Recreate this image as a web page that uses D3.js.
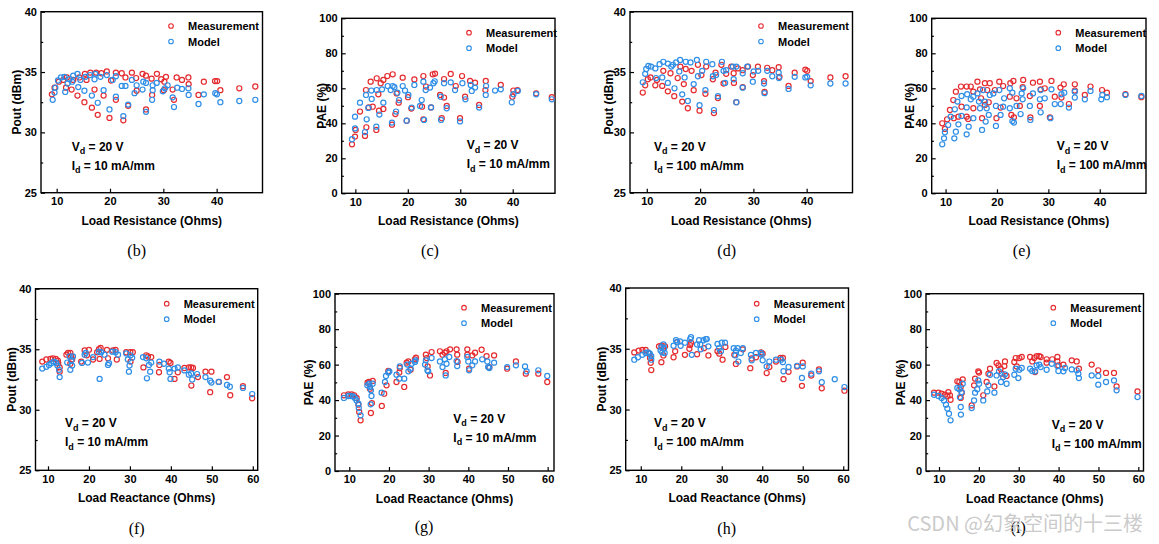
<!DOCTYPE html>
<html>
<head>
<meta charset="utf-8">
<script src="https://cdn.jsdelivr.net/npm/d3@7"></script>
<style>
  html, body { margin:0; padding:0; background:#fff; }
  svg { display:block; }
  .tick text { font-family:"Liberation Sans", Arial, sans-serif; font-weight:bold; font-size:11px; fill:#000; }
  .lbl { font-family:"Liberation Sans", Arial, sans-serif; font-weight:bold; fill:#000; }
  .cap { font-family:"Liberation Serif", "Times New Roman", serif; font-size:16px; fill:#000; }
</style>
</head>
<body>
<svg id="chart" width="1159" height="544"></svg>
<script>
// ---------------- DATA ----------------
const seriesNames = ["Measurement", "Model"];
const poutTicks = [25, 30, 35, 40];
const poutMinor = [27.5, 32.5, 37.5];
const paeTicks = [0, 20, 40, 60, 80, 100];
const paeMinor = [10, 30, 50, 70, 90];
const resTicks = [10, 20, 30, 40];
const reaTicks = [10, 20, 30, 40, 50, 60];
const captions = ["(b)", "(c)", "(d)", "(e)", "(f)", "(g)", "(h)", "(i)"];
const biasV = "20 V";
const biasI10 = "10 mA/mm";
const biasI100 = "100 mA/mm";

// (b) Pout vs load resistance, Id = 10 mA/mm
const bMeas = [[9.1,33.15],[9.6,33.7],[10.4,34.2],[11.25,34.35],[11.9,34.55],[11.75,33.7],[12.8,33.55],[13.9,33.05],[15.2,32.5],[16.6,32.05],[17.7,31.45],[19.9,31.2],[22.5,31.0],[23.4,32.2],[26.75,31.9],[25.0,33.45],[21.1,32.7],[18.8,33.05],[17.1,33.55],[15.6,34.35],[14.25,34.55],[13.1,34.35],[15.3,34.85],[16.3,34.95],[17.4,34.95],[18.4,34.9],[19.4,35.05],[20.2,34.3],[21.1,34.95],[22.2,34.9],[22.9,34.55],[24.1,34.95],[24.9,34.5],[26.1,34.85],[26.75,34.7],[27.8,34.45],[28.8,34.85],[29.6,34.4],[30.5,34.6],[30.2,34.2],[27.9,33.1],[30.1,33.5],[31.75,33.55],[32.0,32.7],[32.5,34.55],[33.5,34.35],[34.7,34.55],[34.75,34.0],[36.6,33.1],[37.6,34.2],[39.7,34.25],[40.1,34.25],[40.7,33.5],[44.25,33.65],[47.25,33.8]];
const bModel = [[9.25,32.7],[9.6,33.3],[9.75,33.7],[10.25,34.3],[10.8,34.55],[11.45,34.6],[11.6,33.35],[12.05,34.05],[12.4,34.4],[12.9,34.2],[13.1,34.7],[13.9,34.85],[14.05,33.75],[14.45,34.35],[15.2,33.45],[15.4,34.6],[16.25,34.75],[16.6,33.05],[17.1,34.4],[17.25,34.85],[17.7,32.45],[18.2,34.6],[18.8,33.5],[19.4,34.75],[19.9,31.9],[20.5,34.35],[21.1,32.95],[21.1,34.65],[22.2,33.85],[22.5,31.35],[22.9,33.85],[23.4,32.3],[24.1,34.35],[24.6,33.25],[25.0,33.9],[26.1,33.55],[26.25,34.2],[26.75,31.7],[26.75,34.1],[27.9,32.7],[28.0,33.5],[28.0,33.9],[28.75,34.1],[29.9,33.4],[30.3,33.65],[30.8,33.9],[31.75,32.9],[32.0,32.1],[32.6,33.7],[33.5,33.6],[34.7,33.65],[34.75,33.1],[36.6,32.35],[37.6,33.15],[39.75,33.25],[40.05,33.15],[40.7,32.5],[44.25,32.6],[47.25,32.7]];

// (c) PAE vs load resistance, Id = 10 mA/mm
const cMeas = [[9.36,28.0],[9.94,32.4],[10.06,36.2],[10.89,46.7],[11.84,32.8],[12.1,37.7],[12.03,59.0],[12.54,49.1],[12.92,63.8],[13.31,49.5],[14.07,65.7],[14.0,36.2],[14.39,56.6],[14.51,47.2],[14.83,62.9],[15.34,64.8],[15.34,48.2],[16.1,67.0],[16.99,39.2],[17.12,68.0],[17.63,45.3],[17.88,57.1],[18.26,51.8],[19.03,66.1],[19.79,41.5],[20.04,54.9],[20.68,48.4],[21.25,65.1],[22.71,49.5],[22.97,67.0],[22.97,42.3],[23.48,61.0],[24.43,49.1],[24.75,68.0],[25.19,68.4],[26.15,56.2],[26.47,42.9],[26.91,65.3],[26.91,54.7],[27.42,49.9],[28.18,68.2],[29.14,61.3],[29.96,42.9],[30.34,67.0],[30.92,55.2],[31.87,64.2],[32.82,63.2],[33.59,50.5],[34.79,59.0],[34.86,64.2],[37.72,61.9],[39.94,55.2],[40.13,58.7],[40.9,59.0],[44.46,57.1],[47.45,54.9]];
const cModel = [[9.36,30.9],[9.94,37.1],[9.94,43.8],[10.89,51.8],[11.84,35.0],[12.16,42.3],[12.03,56.2],[12.48,48.8],[13.05,58.7],[13.12,53.9],[14.07,59.0],[14.0,38.1],[14.58,45.0],[15.09,59.4],[15.34,51.8],[16.17,61.3],[16.74,59.0],[16.99,40.4],[17.12,61.3],[17.44,60.6],[17.76,46.7],[18.01,57.5],[18.33,53.3],[19.03,61.3],[19.47,58.7],[19.79,41.5],[20.11,56.2],[20.74,49.0],[21.25,61.9],[22.33,49.9],[22.65,53.3],[22.97,63.8],[23.1,41.9],[23.41,59.0],[24.24,60.4],[24.43,49.1],[24.88,62.9],[25.13,64.0],[26.27,55.2],[26.34,41.9],[26.91,62.9],[27.42,48.6],[28.18,63.4],[29.01,59.0],[29.96,41.1],[30.41,62.9],[30.98,53.7],[32.0,61.9],[32.19,58.5],[32.82,60.4],[33.59,49.0],[34.92,61.3],[34.86,56.2],[36.64,58.7],[37.72,59.4],[39.82,52.0],[40.13,56.6],[40.96,58.5],[44.46,56.6],[47.45,53.7]];

// (d) Pout vs load resistance, Id = 100 mA/mm
const dMeas = [[9.25,33.3],[9.7,33.9],[10.2,34.4],[10.7,34.55],[11.6,33.9],[11.9,34.35],[12.9,33.85],[13.1,35.1],[13.95,33.4],[14.45,34.9],[15.15,33.0],[15.8,34.5],[16.3,35.45],[16.65,32.55],[16.95,34.0],[17.3,35.25],[17.7,32.0],[18.4,35.1],[18.8,33.5],[19.6,35.6],[19.9,31.8],[20.25,34.75],[21.0,33.2],[21.15,35.45],[22.4,34.4],[22.6,31.6],[22.9,34.95],[23.35,32.85],[24.0,35.6],[24.4,34.05],[24.9,34.85],[25.85,35.45],[26.3,34.9],[26.35,34.1],[26.8,32.5],[27.1,35.3],[28.0,33.75],[28.0,35.15],[29.0,35.45],[29.9,34.75],[30.85,35.45],[32.0,34.25],[32.1,33.35],[32.6,35.35],[33.55,35.15],[34.75,35.4],[34.9,34.6],[36.6,33.85],[37.75,34.95],[39.75,35.2],[40.1,35.1],[40.75,34.25],[44.45,34.55],[47.3,34.65]];
const dModel = [[9.25,34.15],[9.7,34.85],[9.9,35.25],[10.3,35.5],[10.8,35.45],[11.6,35.3],[11.75,34.5],[12.4,35.65],[12.9,34.55],[13.1,35.85],[13.95,34.1],[13.95,35.7],[14.6,35.45],[14.9,35.6],[15.2,33.65],[15.5,35.8],[16.1,35.05],[16.25,36.0],[16.65,33.15],[17.1,34.55],[17.3,35.85],[17.7,32.6],[18.2,35.8],[18.8,34.0],[19.4,36.0],[19.6,34.65],[19.9,32.25],[20.4,35.1],[21.0,33.5],[21.15,35.85],[22.3,35.65],[22.4,34.65],[22.6,31.85],[23.0,34.75],[23.35,33.0],[24.1,35.85],[24.4,35.1],[24.7,34.1],[24.9,35.15],[26.3,34.4],[26.15,35.45],[26.8,32.5],[26.8,35.45],[28.0,33.7],[28.0,34.9],[28.85,35.45],[29.9,34.2],[30.05,35.05],[30.9,35.1],[32.1,33.25],[32.0,34.05],[32.6,35.1],[33.55,34.65],[34.75,34.95],[34.8,34.5],[36.6,33.6],[37.75,34.6],[39.75,34.55],[40.1,34.6],[40.75,33.9],[44.45,34.05],[47.3,34.05]];

// (e) PAE vs load resistance, Id = 100 mA/mm
const eMeas = [[9.35,40.0],[9.87,36.8],[10.3,42.3],[10.85,47.6],[11.5,53.3],[11.6,42.9],[12.0,58.1],[12.5,43.8],[13.0,61.0],[13.1,49.5],[14.1,61.0],[14.1,43.8],[14.4,42.5],[14.9,61.0],[15.4,58.1],[15.4,48.6],[16.2,63.8],[16.7,59.4],[16.9,54.3],[17.1,42.9],[17.65,62.9],[17.65,50.5],[18.1,59.0],[18.4,52.0],[18.6,62.9],[19.6,59.0],[19.9,42.9],[20.45,63.8],[20.7,49.0],[21.2,61.3],[22.5,55.2],[22.6,62.9],[22.8,44.8],[23.2,64.2],[23.3,43.4],[23.8,54.3],[24.45,49.9],[25.1,64.8],[25.0,60.6],[26.4,55.6],[26.5,43.4],[27.0,63.2],[28.35,63.8],[28.35,49.9],[28.5,59.4],[29.3,60.0],[30.3,43.4],[30.6,64.2],[31.25,55.2],[32.35,60.4],[32.55,54.7],[33.0,62.3],[34.0,51.0],[35.15,62.3],[35.15,58.7],[37.1,56.2],[38.2,61.0],[40.45,59.0],[41.4,57.5],[45.0,56.6],[48.1,54.9]];
const eModel = [[9.35,28.0],[9.7,31.4],[9.87,34.9],[10.5,39.0],[11.0,43.8],[11.7,31.4],[11.8,48.0],[12.0,35.2],[12.3,52.4],[12.5,39.4],[13.1,55.6],[13.1,44.2],[14.1,33.7],[14.1,49.1],[14.2,56.6],[14.5,38.1],[14.9,53.7],[15.4,55.2],[15.4,42.9],[16.2,57.1],[16.5,52.4],[16.7,48.6],[17.1,36.2],[17.3,59.0],[17.65,52.4],[17.8,41.0],[18.0,48.6],[18.4,44.8],[18.6,56.2],[19.3,57.1],[19.8,49.9],[19.8,38.5],[20.45,59.0],[20.7,44.8],[21.2,49.5],[21.4,54.3],[22.5,60.0],[22.5,48.6],[23.0,57.5],[23.0,41.3],[23.3,40.4],[23.8,49.9],[24.6,45.3],[24.8,57.1],[25.1,60.0],[25.0,53.7],[26.4,49.9],[26.5,41.9],[27.0,57.1],[28.35,53.7],[28.5,59.0],[28.5,46.3],[29.3,54.3],[30.4,42.9],[30.6,59.4],[31.25,51.0],[32.4,51.0],[32.55,56.6],[33.1,57.5],[34.0,49.0],[35.15,58.1],[35.15,54.7],[37.1,53.7],[38.2,58.5],[40.3,53.7],[40.5,56.2],[41.4,54.9],[45.0,56.2],[48.1,55.6]];

// (f) Pout vs load reactance, Id = 10 mA/mm
const fMeas = [[8.6,33.98],[9.6,34.15],[10.6,34.2],[11.2,34.25],[11.9,34.2],[12.4,34.05],[12.5,33.85],[12.85,33.5],[12.85,33.15],[14.5,34.55],[14.9,34.7],[15.45,34.7],[15.7,34.4],[15.45,33.8],[15.9,34.15],[18.1,33.98],[18.95,34.9],[20.0,34.95],[19.5,34.5],[21.0,34.15],[22.0,34.75],[22.45,35.0],[22.85,35.1],[22.6,34.2],[24.4,34.95],[24.65,34.25],[25.85,34.9],[26.5,34.95],[26.8,34.15],[29.1,34.75],[30.1,34.75],[30.7,34.75],[30.15,33.98],[33.3,33.5],[33.98,34.5],[34.4,34.4],[35.2,34.35],[37.2,33.7],[37.1,33.1],[39.5,33.98],[39.9,33.87],[40.9,32.55],[41.7,33.1],[43.3,33.45],[44.4,33.5],[44.95,33.5],[45.4,33.45],[45.0,32.0],[46.6,32.7],[48.45,33.15],[49.6,31.45],[49.9,33.15],[51.7,32.3],[53.7,32.7],[54.5,31.2],[57.6,31.95],[59.85,30.95]];
const fModel = [[8.6,33.4],[9.6,33.55],[10.25,33.7],[10.8,33.85],[11.45,33.98],[12.0,33.87],[12.3,33.65],[12.7,33.3],[12.85,32.7],[14.7,33.9],[15.3,34.4],[15.45,33.3],[15.7,34.1],[15.9,33.65],[16.1,34.4],[18.3,33.87],[18.95,34.55],[19.2,34.7],[19.75,33.9],[21.0,34.35],[22.45,34.8],[22.6,32.55],[23.0,34.75],[23.8,34.55],[24.65,33.7],[24.9,33.85],[25.7,34.8],[26.5,34.75],[27.1,34.55],[29.1,34.65],[29.5,34.15],[29.75,33.15],[29.9,33.65],[30.15,34.5],[30.55,34.3],[33.2,34.35],[34.0,34.25],[34.15,32.6],[34.65,33.7],[34.95,33.15],[35.2,33.9],[37.2,33.98],[38.3,33.8],[39.5,33.4],[39.7,33.1],[39.9,32.55],[40.9,33.4],[41.7,33.5],[43.3,33.25],[44.4,32.9],[44.95,33.0],[45.2,32.5],[46.4,32.95],[48.45,32.7],[49.6,32.4],[49.9,32.25],[51.7,32.3],[53.7,32.05],[54.4,31.9],[57.6,31.8],[59.85,31.3]];

// (g) PAE vs load reactance, Id = 10 mA/mm
const gMeas = [[8.65,42.7],[9.75,43.2],[10.6,43.2],[11.25,42.7],[11.85,41.2],[12.3,37.4],[12.5,33.3],[12.85,28.6],[14.6,49.8],[14.95,50.2],[15.2,46.4],[15.45,32.7],[15.7,38.3],[15.9,50.8],[18.2,36.7],[18.8,43.6],[19.4,48.3],[19.85,56.4],[21.9,50.2],[22.6,55.5],[22.75,58.1],[23.85,47.4],[24.45,61.1],[24.9,61.8],[25.45,57.1],[26.55,63.0],[26.8,63.9],[29.3,65.6],[29.5,63.7],[29.75,59.0],[30.35,53.9],[30.75,67.1],[32.85,67.5],[33.5,65.6],[34.1,66.7],[34.3,55.3],[34.5,67.5],[35.4,68.6],[37.05,68.6],[37.2,65.6],[37.3,61.5],[39.75,68.6],[39.75,65.6],[40.2,57.7],[41.0,65.2],[41.7,66.7],[43.35,68.4],[44.6,64.8],[45.3,58.6],[46.5,65.2],[49.8,57.7],[52.0,61.8],[54.5,54.9],[57.65,54.9],[59.9,50.2]];
const gModel = [[8.65,41.2],[9.75,42.3],[10.3,42.3],[10.95,42.1],[11.4,41.2],[11.85,39.8],[12.3,38.0],[12.4,35.5],[12.85,31.4],[14.55,48.3],[15.05,49.2],[15.2,47.4],[15.4,37.6],[15.45,45.5],[15.6,42.3],[15.9,49.2],[18.15,44.2],[19.0,50.2],[19.25,53.6],[19.85,55.5],[20.1,56.2],[21.9,54.3],[22.6,52.1],[22.75,59.0],[23.85,52.1],[24.6,60.0],[24.9,56.2],[25.45,57.7],[25.7,60.5],[26.55,61.5],[26.7,62.4],[29.1,60.0],[29.3,62.4],[29.7,56.8],[29.9,56.2],[30.75,63.7],[32.85,61.8],[33.5,58.6],[34.1,63.0],[34.3,53.9],[34.5,60.5],[35.2,64.3],[37.05,62.0],[37.2,59.2],[39.75,64.3],[40.0,61.8],[40.2,56.8],[41.0,59.6],[41.7,61.8],[43.5,63.0],[44.8,61.8],[45.0,58.6],[45.3,58.1],[46.5,61.1],[49.8,58.6],[52.0,59.6],[54.3,59.0],[54.7,56.2],[57.65,56.8],[59.9,53.6]];

// (h) Pout vs load reactance, Id = 100 mA/mm
const hMeas = [[8.4,34.7],[9.5,34.85],[10.4,34.9],[11.2,34.9],[12.0,34.6],[12.3,34.25],[12.45,33.85],[12.6,33.25],[14.5,35.2],[15.1,35.25],[15.6,35.05],[15.1,33.9],[15.6,34.45],[16.0,35.2],[18.1,34.3],[18.5,34.8],[19.0,35.55],[20.9,34.5],[22.0,35.0],[22.2,35.3],[22.4,35.5],[23.9,34.55],[25.6,35.05],[26.7,34.45],[28.95,34.8],[29.4,34.6],[30.2,34.1],[30.9,35.15],[33.1,34.5],[33.5,33.75],[35.2,34.95],[37.05,33.4],[37.4,34.2],[38.45,34.3],[39.7,34.7],[40.1,34.6],[41.1,33.0],[41.75,33.5],[43.4,33.95],[44.5,34.25],[45.1,34.25],[45.25,32.5],[46.5,33.1],[48.6,33.55],[49.8,31.95],[50.0,33.85],[52.1,32.8],[54.0,33.3],[54.7,31.75],[60.3,31.55]];
const hModel = [[8.4,34.1],[9.3,34.3],[10.4,34.5],[11.2,34.65],[11.85,34.7],[12.25,34.6],[12.6,34.4],[12.6,34.1],[14.9,34.85],[15.1,35.15],[15.3,34.7],[15.6,35.35],[15.75,35.05],[15.9,34.65],[18.1,35.25],[18.7,35.7],[18.9,35.55],[19.7,35.6],[19.85,35.25],[20.9,35.5],[22.2,35.8],[22.4,35.95],[22.6,34.5],[23.9,35.35],[24.4,35.7],[24.7,35.35],[24.8,34.95],[25.5,35.7],[26.05,35.8],[26.3,35.8],[26.7,35.2],[28.95,35.4],[29.35,35.05],[29.8,34.8],[30.0,35.5],[30.8,35.5],[32.95,35.05],[33.35,34.45],[33.5,34.85],[33.9,35.05],[34.1,33.95],[34.7,34.65],[35.2,35.05],[37.2,34.5],[37.4,34.05],[38.45,34.65],[39.7,34.65],[39.85,34.5],[40.1,34.05],[41.1,33.55],[41.75,33.95],[43.4,34.1],[44.65,34.1],[45.1,33.9],[45.25,33.15],[46.5,33.5],[48.6,33.6],[49.8,32.6],[50.0,33.55],[52.1,32.95],[54.0,33.15],[54.7,32.25],[57.9,32.5],[60.3,31.85]];

// (i) PAE vs load reactance, Id = 100 mA/mm
const iMeas = [[8.75,44.2],[9.85,44.2],[10.65,43.6],[11.5,43.0],[12.1,42.3],[12.35,44.5],[12.75,42.7],[12.9,40.2],[14.6,50.6],[15.1,50.2],[15.45,47.4],[15.45,41.2],[15.7,44.0],[15.95,51.7],[18.2,37.0],[18.8,48.3],[19.05,52.1],[19.85,56.2],[20.05,55.5],[21.1,42.7],[21.95,50.2],[22.4,54.9],[22.8,57.7],[23.9,47.7],[24.45,60.9],[24.9,59.6],[25.45,57.7],[25.7,54.9],[26.4,59.2],[26.55,61.8],[26.95,53.6],[28.9,61.5],[29.25,63.7],[29.5,59.0],[30.15,63.7],[30.75,64.3],[32.85,64.3],[33.4,61.8],[33.9,63.7],[34.1,55.8],[34.5,64.8],[35.15,64.8],[35.5,64.3],[37.0,63.0],[37.0,61.1],[38.4,63.0],[39.7,64.3],[39.7,61.8],[39.95,59.6],[41.2,60.0],[43.3,62.4],[44.55,61.8],[45.1,57.7],[48.3,60.0],[49.95,56.8],[51.9,55.3],[53.9,55.3],[54.55,47.7],[59.8,44.9]];
const iModel = [[8.75,43.0],[9.85,42.3],[10.65,41.2],[11.25,39.8],[11.75,37.4],[12.1,35.2],[12.5,32.3],[12.9,28.6],[14.6,46.8],[15.1,46.1],[15.25,41.7],[15.45,36.1],[15.5,31.8],[15.7,44.5],[15.95,49.2],[18.2,35.5],[18.8,39.8],[19.05,44.2],[19.6,46.1],[19.85,51.1],[20.05,49.2],[21.1,39.8],[22.1,44.9],[22.4,48.3],[22.8,54.3],[23.9,44.2],[24.45,53.9],[25.05,56.2],[25.55,50.2],[26.1,53.0],[26.55,54.5],[26.95,49.2],[28.9,54.3],[29.25,57.7],[29.9,52.4],[30.15,57.1],[30.75,58.1],[32.85,57.7],[33.4,56.4],[34.1,56.2],[34.5,59.6],[35.15,60.0],[35.5,58.6],[37.0,57.1],[38.3,60.5],[39.7,59.2],[39.95,56.4],[41.2,56.2],[41.6,58.1],[43.3,57.3],[44.55,56.8],[44.95,54.9],[45.1,52.4],[48.3,53.9],[49.95,48.7],[49.95,53.6],[51.9,50.2],[53.9,51.1],[54.55,45.5],[59.8,41.7]];

// ---------------- LAYOUT (positions only) ----------------
const panels = [
  {meas:bMeas, model:bModel, y:"pout", x:"res", id:biasI10,  L:41,    R:262.5,  T:11.7,  B:192.7, xd:[7.06,48.6], legX:171,    legY:26,    annX:71.7,   annY:150.5, ytX:16},
  {meas:cMeas, model:cModel, y:"pae",  x:"res", id:biasI10,  L:341.7, R:555,    T:18.3,  B:193.3, xd:[7.4,48.06], legX:469,    legY:32.7,  annX:466.7,  annY:149,   ytX:321.7},
  {meas:dMeas, model:dModel, y:"pout", x:"res", id:biasI100, L:630,   R:852.5,  T:11.7,  B:192.7, xd:[6.85,48.6], legX:761,    legY:26,    annX:654,    annY:150.7, ytX:608.3},
  {meas:eMeas, model:eModel, y:"pae",  x:"res", id:biasI100, L:931.7, R:1146,   T:18.3,  B:193.3, xd:[7.3,49.0],  legX:1058.3, legY:32.7,  annX:1056.7, annY:150,   ytX:909.3},
  {meas:fMeas, model:fModel, y:"pout", x:"rea", id:biasI10,  L:35.5,  R:257.7,  T:288.7, B:470.3, xd:[6.95,61.2], legX:166.7,  legY:303.7, annX:65,     annY:427,   ytX:11.7},
  {meas:gMeas, model:gModel, y:"pae",  x:"rea", id:biasI10,  L:335,   R:554,    T:293.7, B:471,   xd:[6.4,61.6],  legX:464,    legY:307.7, annX:453.3,  annY:422.7, ytX:308.3},
  {meas:hMeas, model:hModel, y:"pout", x:"rea", id:biasI100, L:625.7, R:848.5,  T:288,   B:470.3, xd:[6.28,61.3], legX:756.7,  legY:303.7, annX:654,    annY:427,   ytX:601.7},
  {meas:iMeas, model:iModel, y:"pae",  x:"rea", id:biasI100, L:926,   R:1143.5, T:293.7, B:471,   xd:[6.74,61.3], legX:1053.3, legY:307.7, annX:1051.7, annY:428.7, ytX:900}
];
const capPos = [[136.7,256],[430,256],[726.7,256],[1021.7,256],[136.7,533.5],[424,532],[726.7,533.5],[1018.3,533]];
const colors = {Measurement:"#e52b2f", Model:"#2f8ee6"};

// ---------------- DRAW ----------------
const svg = d3.select("#chart");

panels.forEach((p, idx) => {
  const g = svg.append("g");
  const x = d3.scaleLinear().domain(p.xd).range([p.L, p.R]);
  const y = d3.scaleLinear().domain(p.y === "pout" ? [25, 40] : [0, 100]).range([p.B, p.T]);
  const yT = p.y === "pout" ? poutTicks : paeTicks;
  const yM = p.y === "pout" ? poutMinor : paeMinor;
  const xT = p.x === "res" ? resTicks : reaTicks;

  // axes (ticks inward)
  const xa = g.append("g").attr("transform", `translate(0,${p.B})`)
    .call(d3.axisBottom(x).tickValues(xT).tickFormat(d3.format("d")).tickSizeInner(-4).tickSizeOuter(0).tickPadding(4.5));
  const ya = g.append("g").attr("transform", `translate(${p.L},0)`)
    .call(d3.axisLeft(y).tickValues(yT).tickFormat(d3.format("d")).tickSizeInner(-4).tickSizeOuter(0).tickPadding(4));
  const ym = g.append("g").attr("transform", `translate(${p.L},0)`)
    .call(d3.axisLeft(y).tickValues(yM).tickFormat("").tickSizeInner(-2.2).tickSizeOuter(0));
  [xa, ya, ym].forEach(a => {
    a.select(".domain").remove();
    a.selectAll(".tick line").attr("stroke", "#000").attr("stroke-width", 1.2);
  });

  // frame
  g.append("rect").attr("x", p.L).attr("y", p.T).attr("width", p.R - p.L).attr("height", p.B - p.T)
    .attr("fill", "none").attr("stroke", "#000").attr("stroke-width", 1.4);

  // points
  [["Measurement", p.meas], ["Model", p.model]].forEach(([name, data]) => {
    g.append("g").selectAll("circle").data(data).join("circle")
      .attr("cx", d => x(d[0])).attr("cy", d => y(d[1])).attr("r", 2.55)
      .attr("fill", "none").attr("stroke", colors[name]).attr("stroke-width", 1.2);
  });

  // legend
  seriesNames.forEach((n, i) => {
    const ly = p.legY + i * 15.5;
    g.append("circle").attr("cx", p.legX).attr("cy", ly).attr("r", 2.3)
      .attr("fill", "none").attr("stroke", colors[n]).attr("stroke-width", 1.1);
    g.append("text").attr("class", "lbl").attr("x", p.legX + 17).attr("y", ly + 4)
      .attr("font-size", 11).text(n);
  });

  // annotation
  const a1 = g.append("text").attr("class", "lbl").attr("x", p.annX).attr("y", p.annY).attr("font-size", 12);
  a1.append("tspan").text("V");
  a1.append("tspan").attr("dy", 3.5).attr("font-size", 9).text("d");
  a1.append("tspan").attr("dy", -3.5).text(" = " + biasV);
  const a2 = g.append("text").attr("class", "lbl").attr("x", p.annX).attr("y", p.annY + 19).attr("font-size", 12);
  a2.append("tspan").text("I");
  a2.append("tspan").attr("dy", 3.5).attr("font-size", 9).text("d");
  a2.append("tspan").attr("dy", -3.5).text(" = " + p.id);

  // axis titles
  g.append("text").attr("class", "lbl").attr("font-size", 12).attr("text-anchor", "middle")
    .attr("x", (p.L + p.R) / 2).attr("y", p.B + 32)
    .text(p.x === "res" ? "Load Resistance (Ohms)" : "Load Reactance (Ohms)");
  g.append("text").attr("class", "lbl").attr("font-size", 12).attr("text-anchor", "middle")
    .attr("transform", `translate(${p.ytX + 4.5},${(p.T + p.B) / 2}) rotate(-90)`)
    .text(p.y === "pout" ? "Pout (dBm)" : "PAE (%)");

  // caption
  svg.append("text").attr("class", "cap").attr("text-anchor", "middle")
    .attr("x", capPos[idx][0]).attr("y", capPos[idx][1]).text(captions[idx]);
});

// watermark (overlaps caption (i) in the reference as well)
svg.append("text").attr("x", 1143).attr("y", 531).attr("text-anchor", "end")
  .attr("font-family", "'Noto Sans CJK SC', 'Noto Sans', sans-serif").attr("font-size", 20)
  .attr("fill", "#c4c4c4").attr("fill-opacity", 0.9).text("CSDN @幻象空间的十三楼");
</script>
</body>
</html>
